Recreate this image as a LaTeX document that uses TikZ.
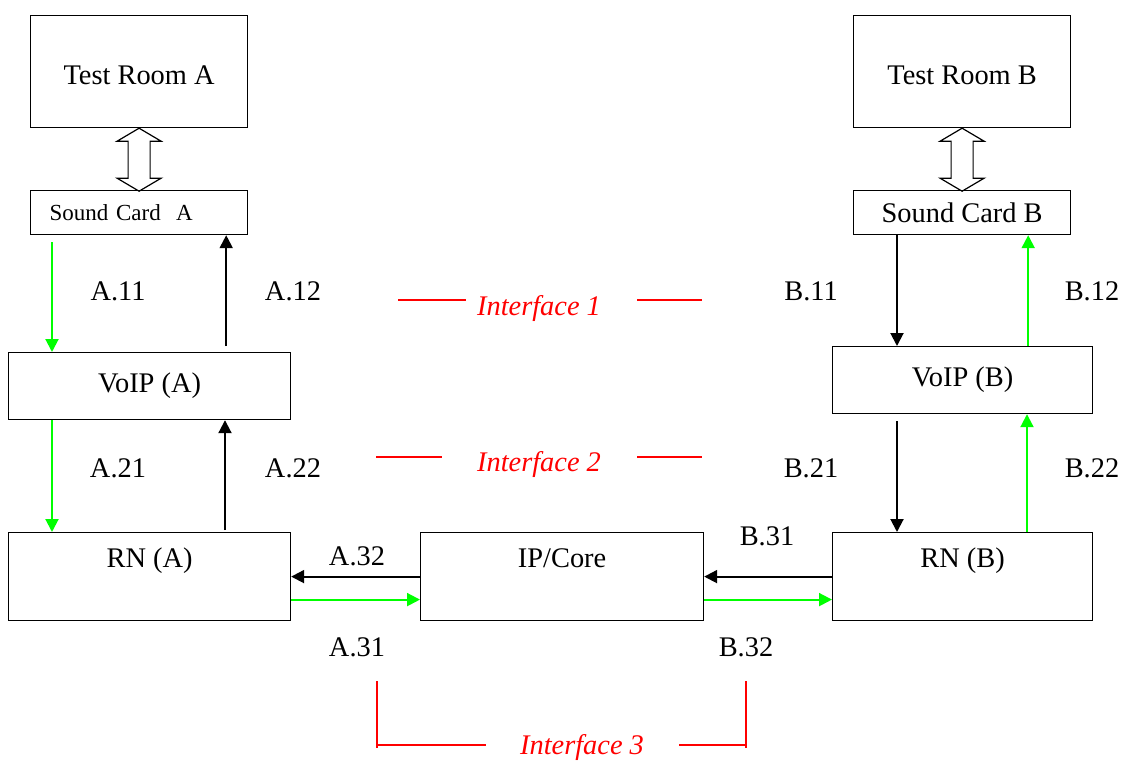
\documentclass[tikz,border=0pt]{standalone}
\usepackage{fontspec}
\setmainfont{Liberation Serif}
\usepackage{tikz}
\usetikzlibrary{arrows.meta}
\newcommand{\bigfont}{\fontsize{28.4pt}{34pt}\selectfont}
% hollow two-headed arrow between a room and its sound card
\newcommand{\updown}[1]{%
  \draw[line width=1.2pt] (#1) -- ++(22,13) -- ++(-11,0) -- ++(0,37) -- ++(11,0)
    -- ++(-22,13) -- ++(-22,-13) -- ++(11,0) -- ++(0,-37) -- ++(-11,0) -- cycle;}

\begin{document}
\begin{tikzpicture}[x=1pt,y=-1pt,
    every node/.style={font=\bigfont},
    box/.style={draw,line width=1.2pt,inner sep=0pt,anchor=north west},
    lowtext/.style={text depth=38pt},
    garrow/.style={draw=green,line width=2pt,-{Triangle[length=13pt,width=13pt]}},
    barrow/.style={draw=black,line width=2pt,-{Triangle[length=13pt,width=13pt]}},
    iface/.style={red,line width=1.3pt},
    ifacetext/.style={text=red,font=\bigfont\itshape}]

  \useasboundingbox (0,0) rectangle (1125,762);

  % boxes
  \node[box,text height=27pt,minimum width=217,minimum height=112] (tra) at (30,15) {Test Room A};
  \node[box,text height=27pt,minimum width=217,minimum height=112] (trb) at (853,15) {Test Room B};
  \node[box,minimum height=44,text width=179,align=left,inner xsep=19,
        font=\fontsize{23pt}{28pt}\selectfont] (sca) at (30,190) {Sound Card\ \ A};
  \node[box,minimum width=217,minimum height=44] (scb) at (853,190) {Sound Card B};
  \node[box,minimum width=282,minimum height=67] (voipa) at (8,352) {VoIP (A)};
  \node[box,minimum width=260,minimum height=67] (voipb) at (832,346) {VoIP (B)};
  \node[box,lowtext,minimum width=282,minimum height=88] (rna) at (8,532) {RN (A)};
  \node[box,lowtext,minimum width=283,minimum height=88] (ipc) at (420,532) {IP/Core};
  \node[box,lowtext,minimum width=260,minimum height=88] (rnb) at (832,532) {RN (B)};

  \updown{tra.south}
  \updown{trb.south}

  % side A
  \draw[garrow,shorten <=7pt] ([xshift=22pt]sca.south west) -- ([xshift=22pt]sca.south west |- voipa.north);
  \draw[barrow,shorten <=6pt] ([xshift=-22pt]sca.south east |- voipa.north) -- ([xshift=-22pt]sca.south east);
  \draw[garrow] ([xshift=44pt]voipa.south west) -- ([xshift=44pt]voipa.south west |- rna.north);
  \draw[barrow,shorten <=2pt] ([xshift=217pt]voipa.south west |- rna.north) -- ([xshift=217pt]voipa.south west);

  % side B
  \draw[barrow] ([xshift=44pt]scb.south west) -- ([xshift=44pt]scb.south west |- voipb.north);
  \draw[garrow] ([xshift=-43pt]scb.south east |- voipb.north) -- ([xshift=-43pt]scb.south east);
  \draw[barrow,shorten <=7pt] ([xshift=65pt]voipb.south west) -- ([xshift=65pt]voipb.south west |- rnb.north);
  \draw[garrow] ([xshift=195pt]voipb.south west |- rnb.north) -- ([xshift=195pt]voipb.south west);

  % core links
  \draw[barrow] (ipc.west) -- (rna.east);
  \draw[garrow] ([yshift=-23pt]rna.east) -- ([yshift=-23pt]ipc.west);
  \draw[barrow] (rnb.west) -- (ipc.east);
  \draw[garrow] ([yshift=-23pt]ipc.east) -- ([yshift=-23pt]rnb.west);

  % labels
  \node (la11) at (118,291) {A.11};
  \node (la12) at (293,291) {A.12};
  \node (la21) at (118,468) {A.21};
  \node (la22) at (293,468) {A.22};
  \node (la32) at (357,556) {A.32};
  \node (la31) at (357,647) {A.31};
  \node (lb11) at (811,291) {B.11};
  \node (lb12) at (1092,291) {B.12};
  \node (lb21) at (811,468) {B.21};
  \node (lb22) at (1092,468) {B.22};
  \node (lb31) at (767,536) {B.31};
  \node (lb32) at (746,647) {B.32};

  % interfaces
  \node[ifacetext] (if1) at (539,309) {Interface 1};
  \draw[iface] (398,300) -- (466,300);
  \draw[iface] (637,300) -- (702,300);
  \node[ifacetext] (if2) at (539,465) {Interface 2};
  \draw[iface] (376,457) -- (442,457);
  \draw[iface] (637,457) -- (702,457);
  \node[ifacetext] (if3) at (582,748) {Interface 3};
  \draw[iface] (377,681) -- (377,748);
  \draw[iface] (377,745) -- (486,745);
  \draw[iface] (679,745) -- (746,745);
  \draw[iface] (746,681) -- (746,748);

\end{tikzpicture}
\end{document}
